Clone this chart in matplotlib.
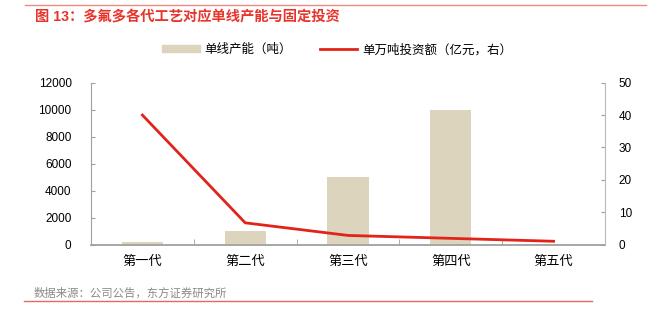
import matplotlib
matplotlib.use("Agg")
import matplotlib.pyplot as plt
from matplotlib.lines import Line2D
from matplotlib.patches import Patch
import numpy as np

plt.rcParams['font.family'] = ['Liberation Sans', 'Noto Sans CJK SC', 'DejaVu Sans']

# generations and their figures
generations = ['第一代', '第二代', '第三代', '第四代', '第五代']
capacity = [150, 1000, 5000, 10000, 0]          # 单线产能（吨）
invest_per_10kt = [40, 6.7, 2.8, 1.9, 1.0]      # 单万吨投资额（亿元）

bar_color = '#DDD4BD'
line_color = '#E2231A'
spine_color = '#A0A0A0'

fig = plt.figure(figsize=(6.59, 3.22), dpi=100)

# header and footer rules
fig.add_artist(Line2D([25 / 659, 646 / 659], [1 - 5 / 322] * 2, color='#EE8C82', lw=1.0))
fig.add_artist(Line2D([24 / 659, 592 / 659], [1 - 301 / 322] * 2, color='#E46A62', lw=1.0))
fig.text(35 / 659, 1 - 17 / 322, '图 13：多氟多各代工艺对应单线产能与固定投资',
         color='#E8352C', fontsize=10.3, fontweight='bold', va='center', ha='left')
fig.text(34 / 659, 1 - 293 / 322, '数据来源：公司公告，东方证券研究所',
         color='#8A8A8A', fontsize=8.2, va='center', ha='left')

ax = fig.add_axes([91 / 659, 1 - 244.5 / 322, 514 / 659, 161.8 / 322])
x = np.arange(len(generations))
ax.bar(x, capacity, width=0.4, color=bar_color, zorder=2)
ax.set_xlim(-0.5, len(generations) - 0.5)
ax.set_ylim(0, 12000)
ax.set_yticks(np.arange(0, 12001, 2000))
ax.set_xticks(x)
ax.set_xticklabels(generations, fontsize=9.5)
ax.set_xticks(np.arange(-0.5, len(generations), 1), minor=True)
ax.tick_params(axis='x', which='major', length=0, pad=8)
ax.tick_params(axis='x', which='minor', direction='in', length=4, color=spine_color)
ax.tick_params(axis='y', direction='in', length=3, color=spine_color, labelsize=8.5, pad=14)
ax.spines['top'].set_visible(False)
ax.spines['right'].set_visible(False)
ax.spines['left'].set_color(spine_color)
ax.spines['bottom'].set_color(spine_color)
ax.spines['bottom'].set_linewidth(1.3)

ax2 = ax.twinx()
ax2.plot(x, invest_per_10kt, color=line_color, lw=2, zorder=3)
ax2.set_ylim(0, 50)
ax2.set_yticks(np.arange(0, 51, 10))
ax2.tick_params(axis='y', direction='in', length=3, color=spine_color, labelsize=8.5, pad=10)
ax2.spines['top'].set_visible(False)
ax2.spines['left'].set_visible(False)
ax2.spines['bottom'].set_visible(False)
ax2.spines['right'].set_color('#B8B8B8')

handles = [Patch(color=bar_color), Line2D([0], [0], color=line_color, lw=2)]
labels = ['单线产能（吨）', '单万吨投资额（亿元，右）']
fig.legend(handles, labels, loc='center', bbox_to_anchor=(337 / 659, 1 - 50 / 322),
           ncol=2, frameon=False, fontsize=9, handlelength=3.0, handleheight=0.5,
           columnspacing=2.2, handletextpad=0.4)

fig.savefig('out.png', dpi=100)
